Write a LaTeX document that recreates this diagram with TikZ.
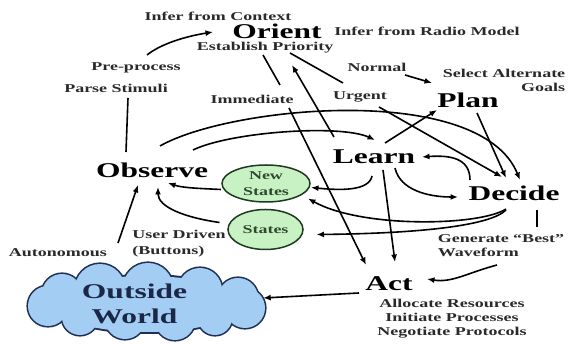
\documentclass[tikz,border=0pt]{standalone}
\usepackage{fontspec}
\setmainfont{Liberation Serif}[FakeStretch=1.5]
\usetikzlibrary{shapes.geometric,arrows.meta,calc}
\definecolor{lbl}{HTML}{2A2A2A}
\definecolor{stfill}{HTML}{C9F2C4}
\definecolor{stdraw}{HTML}{1E3A1E}
\definecolor{sttext}{HTML}{2E4A2E}
\definecolor{cloudfill}{HTML}{A4CDF3}
\definecolor{clouddraw}{HTML}{1F2F55}
\definecolor{cloudtext}{HTML}{1A2747}
\begin{document}
\begin{tikzpicture}[x=1pt,y=1pt,
  lab/.style={font=\fontsize{12}{14}\selectfont\bfseries, text=lbl, inner sep=0pt},
  big/.style={font=\fontsize{21}{24}\selectfont\bfseries, inner sep=0pt},
  con/.style={line width=1.6pt, black},
  arr/.style={con, -{Latex[length=7.5pt,width=6pt]}},
  stbox/.style={ellipse, draw=stdraw, fill=stfill, line width=1.5pt, inner sep=0pt,
    align=center, text=sttext, font=\fontsize{12}{16}\selectfont\bfseries}
]
\fill[white] (0,0) rectangle (568,344);
\useasboundingbox (0,0) rectangle (568,344);

% cloud (union of puffs: dark rim first, light fill on top)
\def\puffs{62/50/20, 48/38/20, 100/55/25, 148/56/25, 200/54/22, 238/46/20, 245/36/20,
  215/26/17, 175/24/20, 125/25/20, 80/27/18}
\foreach \px/\py/\pr in \puffs {\fill[clouddraw] (\px,\py) circle[radius={(\pr+1.6)*1pt}];}
\fill[clouddraw] (146,40) ellipse[x radius=97pt, y radius=30pt];
\foreach \px/\py/\pr in \puffs {\fill[cloudfill] (\px,\py) circle[radius={\pr*1pt}];}
\fill[cloudfill] (146,40) ellipse[x radius=95pt, y radius=28pt];
\node[inner sep=0pt, minimum width=238, minimum height=77] (cloud) at (146,42) {};
\node[big, text=cloudtext, align=center, font=\fontsize{21}{25}\selectfont\bfseries] (cloudlbl) at (134.5,40) {Outside\\World};

% labels
\node[lab] (ctx) at (218,328) {Infer from Context};
\node[big] (orient) at (277,313) {Orient};
\node[lab] (radio) at (427,313) {Infer from Radio Model};
\node[lab] (prio) at (265,296) {Establish Priority};
\node[lab] (pre) at (136,276) {Pre-process};
\node[lab] (parse) at (116,256) {Parse Stimuli};
\node[lab] (normal) at (377,277) {Normal};
\node[lab, align=right] (select) at (504,264) {Select Alternate\\Goals};
\node[lab] (imm) at (252,245) {Immediate};
\node[lab] (urgent) at (360,247) {Urgent};
\node[big] (plan) at (468,244) {Plan};
\node[big] (learn) at (374,187) {Learn};
\node[big] (observe) at (152,174) {Observe};
\node[big] (decide) at (514,151) {Decide};
\node[big] (act) at (389,60) {Act};
\node[lab, align=left] (gen) at (501,98) {Generate “Best”\\Waveform};
\node[lab, align=center] (alloc) at (452,25) {Allocate Resources\\Initiate Processes\\Negotiate Protocols};
\node[lab] (auto) at (58,91) {Autonomous};
\node[lab, align=left, font=\fontsize{12}{16}\selectfont\bfseries] (user) at (179,100) {User Driven\\(Buttons)};

% state ellipses
\node[stbox, minimum width=88, minimum height=37] (newst) at (266,160.5) {New\\States};
\node[stbox, minimum width=75, minimum height=40] (states) at (265.5,114.5) {States};

% connectors
\draw[arr] ($(pre)+(11,13)$) .. controls +(15,12) and +(-25,-4) .. ($(orient)+(-64,-1)$);
\draw[con] ($(observe)+(-26,18)$) -- ($(parse)+(12,-10)$);
\draw[con] ($(prio)+(-2,-7)$) -- ($(imm)+(28,14)$);
\draw[con] ($(prio)+(25,-5)$) -- ($(urgent)+(-17,14)$);
\draw[arr] ($(normal)+(28,-8)$) -- ($(plan)+(-36,17)$);
\draw[arr] ($(learn)+(-40,20)$) -- ($(prio)+(27,-17)$);
\draw[arr] ($(imm)+(37,-9)$) -- ($(act)+(-23,19)$);
\draw[arr] ($(learn)+(9,-13)$) -- ($(act)+(6,22)$);
\draw[arr] ($(urgent)+(19,-10)$) -- ($(decide)+(-12,16)$);
\draw[arr] ($(learn)+(11,14)$) -- ($(plan)+(-31,-10)$);
\draw[arr] ($(plan)+(9,-13)$) -- ($(decide)+(-8,15)$);
\draw[arr] ($(observe)+(8,24)$) .. controls +(70,40) and +(-40,98) .. ($(decide)+(6,13)$);
\draw[arr] ($(observe)+(41,20)$) .. controls +(37,18) and +(-35,16) .. ($(learn)+(1,17)$);
\draw[arr] ($(decide)+(-44,13)$) .. controls +(0,22) and +(28,2) .. ($(learn)+(48,0)$);
\draw[arr] ($(learn)+(21,-11)$) .. controls +(5,-22) and +(-30,0) .. ($(decide)+(-56,-4)$);
\draw[arr] ($(learn)+(-2,-19)$) .. controls +(-3,-15) and +(30,-3) .. ($(newst)+(45,-4)$);
\draw[arr] ($(newst)+(-45,-6)$) .. controls +(-20,1) and +(15,-5) .. ($(observe)+(16,-13)$);
\draw[arr] ($(states)+(-46,7)$) .. controls +(-35,5) and +(0,-20) .. ($(observe)+(6,-17)$);
\draw[arr] ($(decide)+(-8,-16)$) .. controls +(-26,-17) and +(54,-30) .. ($(newst)+(42,-15)$);
\draw[arr] ($(decide)+(-8,-17)$) .. controls +(-16,-16) and +(101,1) .. ($(states)+(51,-5)$);
\draw[con] ($(decide)+(23,-17)$) -- ($(gen)+(36,19)$);
\draw[arr] ($(gen)+(-4,-19)$) .. controls +(-30,-8) and +(25,-4) .. ($(act)+(38,5)$);
\draw[arr] ($(act)+(-30,-9)$) -- ($(cloud.east)+(-2,4)$);
\draw[arr] ($(auto)+(60,10)$) -- ($(observe)+(-14,-15)$);
\end{tikzpicture}
\end{document}
